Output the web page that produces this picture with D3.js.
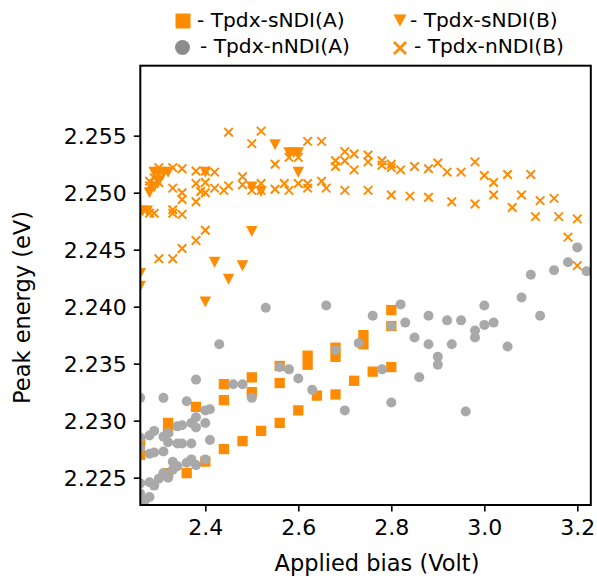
<!DOCTYPE html>
<html>
<head>
<meta charset="utf-8">
<script src="https://cdn.jsdelivr.net/npm/d3@7"></script>
<style>
  html, body { margin: 0; padding: 0; background: #fff; }
  svg { display: block; }
  text { font-family: "DejaVu Sans", sans-serif; fill: #000; }
</style>
</head>
<body>
<svg id="chart" width="597" height="577"></svg>
<script>
// Peak energy vs. applied bias for four device sets

// Tpdx-sNDI(A): [bias (V), peak energy (eV)]
const sNDI_A = [
  [2.26,2.2281],[2.26,2.2270],[2.32,2.2298],[2.32,2.2291],[2.32,2.2254],[2.36,2.2254],
  [2.38,2.2312],[2.40,2.2264],[2.44,2.2332],[2.44,2.2318],[2.44,2.2275],[2.48,2.2282],
  [2.50,2.2338],[2.50,2.2325],[2.52,2.2291],[2.56,2.2348],[2.56,2.2333],[2.56,2.2298],
  [2.60,2.2309],[2.62,2.2357],[2.62,2.2349],[2.64,2.2322],[2.68,2.2364],[2.68,2.2356],
  [2.68,2.2323],[2.72,2.2335],[2.74,2.2375],[2.74,2.2367],[2.76,2.2343],[2.80,2.2397],
  [2.80,2.2383],[2.80,2.2347]
];

// Tpdx-sNDI(B)
const sNDI_B = [
  [2.26,2.2429],[2.26,2.2418],[2.265,2.2484],[2.275,2.2484],[2.28,2.2500],[2.29,2.2505],
  [2.29,2.2518],[2.30,2.2518],[2.30,2.2510],[2.31,2.2517],[2.32,2.2518],[2.40,2.2518],
  [2.40,2.2404],[2.42,2.2439],[2.45,2.2424],[2.48,2.2436],[2.50,2.2466],[2.50,2.2505],
  [2.52,2.2501],[2.55,2.2542],[2.58,2.2535],[2.59,2.2535],[2.60,2.2535],[2.60,2.2518]
];

// Tpdx-nNDI(A)
const nNDI_A = [
  [2.26,2.2320],[2.26,2.2285],[2.26,2.2276],[2.26,2.2245],[2.26,2.2236],[2.26,2.2229],
  [2.27,2.2230],[2.28,2.2233],[2.28,2.2246],[2.29,2.2243],[2.30,2.2249],[2.31,2.2254],
  [2.32,2.2250],[2.33,2.2257],[2.34,2.2260],[2.33,2.2264],[2.36,2.2263],[2.37,2.2266],
  [2.38,2.2261],[2.40,2.2266],[2.28,2.2271],[2.29,2.2272],[2.31,2.2273],[2.28,2.2287],
  [2.29,2.2291],[2.31,2.2286],[2.32,2.2289],[2.32,2.2281],[2.34,2.2280],[2.35,2.2280],
  [2.37,2.2280],[2.41,2.2283],[2.34,2.2295],[2.35,2.2296],[2.37,2.2298],[2.38,2.2294],
  [2.40,2.2298],[2.38,2.2303],[2.40,2.2309],[2.41,2.2310],[2.31,2.2320],[2.36,2.2317],
  [2.38,2.2336],[2.43,2.2367],[2.46,2.2332],[2.48,2.2332],[2.50,2.2320],[2.53,2.2399],
  [2.56,2.2347],[2.58,2.2345],[2.60,2.2337],[2.63,2.2327],[2.66,2.2401],[2.68,2.2362],
  [2.70,2.2309],[2.73,2.2368],[2.76,2.2392],[2.78,2.2345],[2.80,2.2383],[2.80,2.2316],
  [2.82,2.2402],[2.83,2.2386],[2.85,2.2373],[2.86,2.2338],[2.88,2.2392],[2.88,2.2367],
  [2.90,2.2356],[2.90,2.2349],[2.92,2.2388],[2.93,2.2367],[2.95,2.2388],[2.96,2.2308],
  [2.98,2.2379],[2.98,2.2373],[3.00,2.2401],[3.00,2.2384],[3.02,2.2386],[3.05,2.2365],
  [3.08,2.2408],[3.10,2.2428],[3.12,2.2392],[3.15,2.2432],[3.18,2.2439],[3.20,2.2452],
  [3.22,2.2431]
];

// Tpdx-nNDI(B)
const nNDI_B = [
  [2.28,2.2510],[2.28,2.2506],[2.29,2.2508],[2.29,2.2513],[2.30,2.2522],[2.30,2.2516],
  [2.30,2.2509],[2.28,2.2482],[2.29,2.2482],[2.30,2.2442],[2.33,2.2522],[2.33,2.2504],
  [2.33,2.2485],[2.33,2.2482],[2.33,2.2442],[2.35,2.2521],[2.35,2.2500],[2.35,2.2494],
  [2.35,2.2481],[2.35,2.2451],[2.38,2.2519],[2.38,2.2508],[2.38,2.2492],[2.38,2.2458],
  [2.40,2.2519],[2.40,2.2509],[2.40,2.2500],[2.40,2.2467],[2.39,2.2501],[2.42,2.2518],
  [2.42,2.2504],[2.44,2.2502],[2.45,2.2553],[2.45,2.2506],[2.48,2.2514],[2.48,2.2507],
  [2.50,2.2543],[2.50,2.2502],[2.52,2.2554],[2.52,2.2508],[2.52,2.2502],[2.55,2.2525],
  [2.55,2.2503],[2.57,2.2508],[2.58,2.2531],[2.58,2.2502],[2.60,2.2531],[2.60,2.2508],
  [2.62,2.2545],[2.62,2.2508],[2.62,2.2504],[2.65,2.2545],[2.65,2.2510],[2.66,2.2504],
  [2.68,2.2528],[2.68,2.2523],[2.70,2.2536],[2.70,2.2528],[2.70,2.2502],[2.72,2.2534],
  [2.72,2.2520],[2.75,2.2533],[2.75,2.2527],[2.75,2.2502],[2.78,2.2528],[2.78,2.2524],
  [2.80,2.2525],[2.80,2.2522],[2.80,2.2498],[2.82,2.2520],[2.85,2.2523],[2.84,2.2497],
  [2.88,2.2521],[2.88,2.2496],[2.90,2.2526],[2.92,2.2518],[2.93,2.2492],[2.95,2.2518],
  [2.98,2.2527],[2.98,2.2490],[3.00,2.2515],[3.02,2.2509],[3.02,2.2498],[3.05,2.2516],
  [3.06,2.2487],[3.08,2.2498],[3.10,2.2516],[3.11,2.2479],[3.12,2.2493],[3.15,2.2495],
  [3.16,2.2479],[3.18,2.2461],[3.20,2.2477],[3.20,2.2436]
];

const xTicks = [2.4, 2.6, 2.8, 3.0, 3.2];
const yTicks = [2.225, 2.230, 2.235, 2.240, 2.245, 2.250, 2.255];

const legendLabels = ["- Tpdx-sNDI(A)", "- Tpdx-sNDI(B)", "- Tpdx-nNDI(A)", "- Tpdx-nNDI(B)"];

const ORANGE = "#ff8c00";
const GREY = "#a9a9a9";
const GREY_KEY = "#8c8c8c";

const svg = d3.select("#chart");
const plot = { left: 140.3, right: 590.8, top: 65.7, bottom: 505 };

const x = d3.scaleLinear().domain([2.2602, 3.229]).range([plot.left, plot.right]);
const y = d3.scaleLinear().domain([2.2226, 2.26114]).range([plot.bottom, plot.top]);

svg.append("clipPath").attr("id", "plot-clip")
  .append("rect")
  .attr("x", plot.left).attr("y", plot.top)
  .attr("width", plot.right - plot.left).attr("height", plot.bottom - plot.top);

const marks = svg.append("g").attr("clip-path", "url(#plot-clip)");

// symbol shapes
const square = s => `M${-s/2},${-s/2}h${s}v${s}h${-s}Z`;
const triDown = (w, h) => `M${-w/2},${-h/2}L${w/2},${-h/2}L0,${h/2}Z`;
const cross = s => `M${-s/2},${-s/2}L${s/2},${s/2}M${-s/2},${s/2}L${s/2},${-s/2}`;

marks.append("g").selectAll("path").data(sNDI_A).join("path")
  .attr("transform", d => `translate(${x(d[0])},${y(d[1])})`)
  .attr("d", square(10.3))
  .attr("fill", ORANGE);

marks.append("g").selectAll("path").data(sNDI_B).join("path")
  .attr("transform", d => `translate(${x(d[0])},${y(d[1])})`)
  .attr("d", triDown(11.5, 11))
  .attr("fill", ORANGE);

marks.append("g").selectAll("circle").data(nNDI_A).join("circle")
  .attr("cx", d => x(d[0])).attr("cy", d => y(d[1]))
  .attr("r", 5)
  .attr("fill", GREY);

marks.append("g").selectAll("path").data(nNDI_B).join("path")
  .attr("transform", d => `translate(${x(d[0])},${y(d[1])})`)
  .attr("d", cross(8.5))
  .attr("fill", "none")
  .attr("stroke", ORANGE)
  .attr("stroke-width", 2);

// axes
const xAxis = svg.append("g")
  .attr("transform", `translate(0,${plot.bottom})`)
  .call(d3.axisBottom(x).tickValues(xTicks).tickFormat(d3.format(".1f")).tickSize(6.5).tickPadding(7));
const yAxis = svg.append("g")
  .attr("transform", `translate(${plot.left},0)`)
  .call(d3.axisLeft(y).tickValues(yTicks).tickFormat(d3.format(".3f")).tickSize(6.5).tickPadding(7));

[xAxis, yAxis].forEach(g => {
  g.select(".domain").remove();
  g.selectAll(".tick line").attr("stroke", "#000").attr("stroke-width", 1.6);
  g.selectAll(".tick text").attr("font-size", 22).attr("font-family", "DejaVu Sans").attr("fill", "#000");
});
xAxis.selectAll(".tick text").attr("dy", null).attr("y", 29.8);
yAxis.selectAll(".tick text").attr("dy", "0.36em");

// frame
svg.append("rect")
  .attr("x", plot.left).attr("y", plot.top)
  .attr("width", plot.right - plot.left).attr("height", plot.bottom - plot.top)
  .attr("fill", "none").attr("stroke", "#000").attr("stroke-width", 2);

// axis titles
svg.append("text")
  .attr("x", 377).attr("y", 571)
  .attr("text-anchor", "middle").attr("font-size", 22.5)
  .text("Applied bias (Volt)");
svg.append("text")
  .attr("transform", "translate(29.5,307.5) rotate(-90)")
  .attr("text-anchor", "middle").attr("font-size", 22.5)
  .text("Peak energy (eV)");

// legend
const legend = svg.append("g");
const keys = [
  { cx: 183, cy: 21, tx: 197, ty: 26.7, draw: g => g.append("path").attr("d", square(15)).attr("fill", ORANGE) },
  { cx: 400, cy: 20.5, tx: 410, ty: 26.7, draw: g => g.append("path").attr("d", triDown(13, 12)).attr("fill", ORANGE) },
  { cx: 182.5, cy: 47.5, tx: 200, ty: 53.3, draw: g => g.append("circle").attr("r", 7.5).attr("fill", GREY_KEY) },
  { cx: 400, cy: 48, tx: 414, ty: 53.3, draw: g => g.append("path").attr("d", cross(12)).attr("fill", "none").attr("stroke", ORANGE).attr("stroke-width", 2.6) }
];
keys.forEach((k, i) => {
  const g = legend.append("g").attr("transform", `translate(${k.cx},${k.cy})`);
  k.draw(g);
  legend.append("text").attr("x", k.tx).attr("y", k.ty).attr("font-size", 20.2).text(legendLabels[i]);
});
</script>
</body>
</html>
